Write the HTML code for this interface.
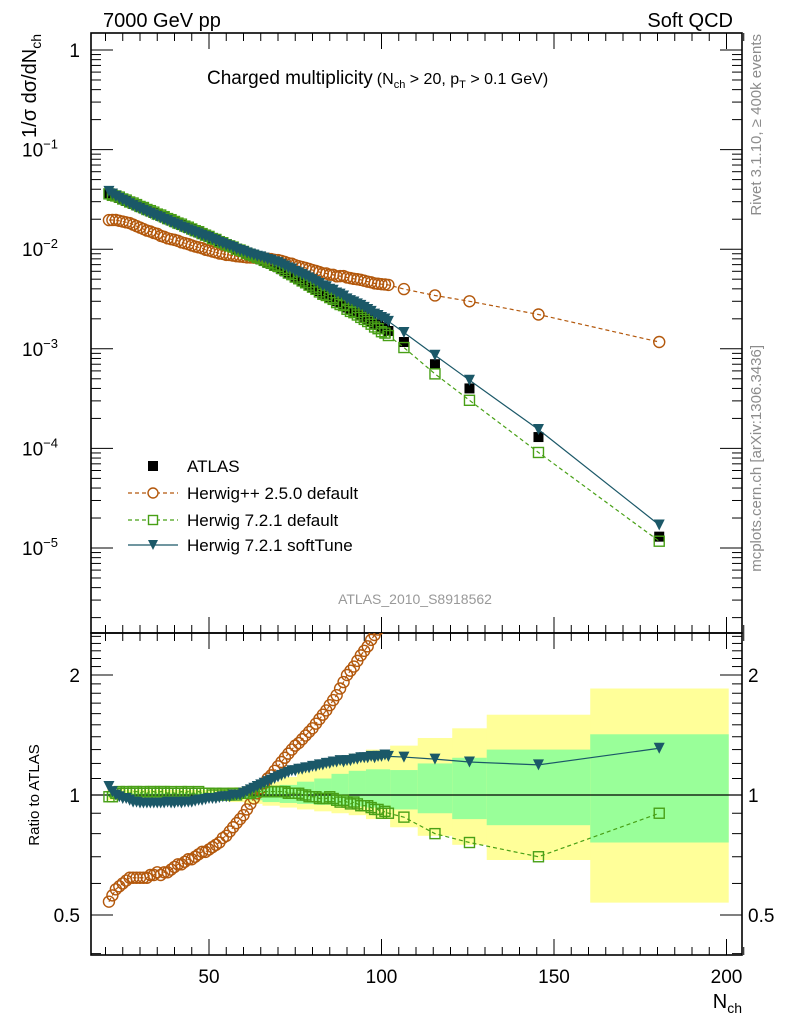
<!DOCTYPE html>
<html><head><meta charset="utf-8"><style>
html,body{margin:0;padding:0;background:#fff;}
svg{display:block;font-family:"Liberation Sans",sans-serif;}
</style></head><body>
<svg id="c" width="786" height="1024" viewBox="0 0 786 1024" xmlns="http://www.w3.org/2000/svg">
<g id="bands"></g>
<g id="axes"></g>
<g id="marks"></g>
<text x="103" y="27" font-size="20">7000 GeV pp</text>
<text x="733" y="27" font-size="20" text-anchor="end">Soft QCD</text>
<text x="207" y="84" font-size="19">Charged multiplicity<tspan font-size="16" dx="4">(N</tspan><tspan font-size="11" dy="4">ch</tspan><tspan font-size="16" dy="-4"> &gt; 20, p</tspan><tspan font-size="11" dy="4">T</tspan><tspan font-size="16" dy="-4"> &gt; 0.1 GeV)</tspan></text>
<text transform="translate(36,34) rotate(-90)" font-size="20" text-anchor="end">1/σ dσ/dN<tspan font-size="14" dy="5">ch</tspan></text>
<text transform="translate(39,795) rotate(-90)" font-size="15" text-anchor="middle">Ratio to ATLAS</text>
<text x="742" y="1008" font-size="20" text-anchor="end">N<tspan font-size="14" dy="5">ch</tspan></text>
<text transform="translate(761,34) rotate(-90)" font-size="15" fill="#8c8c8c" text-anchor="end">Rivet 3.1.10, ≥ 400k events</text>
<text transform="translate(761,345) rotate(-90)" font-size="15" fill="#8c8c8c" text-anchor="end">mcplots.cern.ch [arXiv:1306.3436]</text>
<text x="415" y="604" font-size="14" fill="#999" text-anchor="middle">ATLAS_2010_S8918562</text>
<g id="legend"></g>
</svg>
<script>
// ---- data ----
const nch = [21,22,23,24,25,26,27,28,29,30,31,32,33,34,35,36,37,38,39,40,41,42,43,44,45,46,47,48,49,50,51,52,53,54,55,56,57,58,59,60,61,62,63,64,65,66,67,68,69,70,71,72,73,74,75,76,77,78,79,80,81,82,83,84,85,86,87,88,89,90,91,92,93,94,95,96,97,98,99,100,101,102,106.5,115.5,125.5,145.5,180.5];
const atlas = [.0363,.0351,.0339,.0327,.0316,.0305,.0295,.0285,.0275,.0266,.0257,.0248,.0239,.0231,.0223,.0216,.0208,.0201,.0194,.0188,.0181,.0175,.0169,.0163,.0158,.0152,.0147,.0142,.0137,.0133,.0128,.0124,.0119,.0115,.0111,.0108,.0104,.0100,.0097,.0094,.0090,.0087,.0084,.0081,.0079,.0076,.0073,.0071,.0068,.0066,.0063,.0060,.0057,.0055,.0052,.0050,.0048,.0046,.0044,.0042,.0040,.0038,.0036,.0035,.0033,.0032,.0030,.0029,.0028,.0026,.0025,.0024,.0023,.0022,.0021,.0020,.0019,.0018,.00173,.00165,.00158,.00151,.00117,.00070,.00040,.00013,.000013];
const ratioHpp = [.54,.56,.58,.59,.60,.61,.62,.62,.62,.62,.62,.62,.63,.63,.64,.63,.64,.64,.65,.66,.67,.67,.68,.69,.69,.70,.71,.72,.72,.73,.74,.75,.76,.78,.79,.81,.83,.85,.87,.89,.92,.95,.98,1.01,1.04,1.07,1.10,1.12,1.15,1.18,1.21,1.24,1.27,1.30,1.33,1.35,1.38,1.41,1.44,1.47,1.51,1.55,1.59,1.63,1.68,1.73,1.78,1.85,1.92,2.0,2.05,2.1,2.17,2.24,2.3,2.36,2.45,2.52,2.6,2.7,2.8,2.9,3.4,4.9,7.5,17,90];
const ratioH7 = [.99,.99,1.01,1.02,1.01,1.02,1.01,1.02,1.02,1.01,1.02,1.01,1.02,1.02,1.01,1.02,1.02,1.01,1.02,1.01,1.01,1.02,1.01,1.02,1.01,1.01,1.02,1.01,1.01,1.01,1.00,1.01,1.00,1.01,1.00,1.00,1.01,1.00,1.01,1.01,1.01,1.01,1.02,1.02,1.02,1.02,1.02,1.02,1.02,1.02,1.02,1.02,1.01,1.01,1.01,1.01,1.00,1.00,.99,.99,.99,.98,.98,.98,.99,.98,.97,.96,.97,.96,.95,.96,.95,.94,.94,.94,.93,.92,.92,.90,.91,.90,.88,.80,.76,.70,.90];
const ratioSoft = [1.05,1.02,1.00,.99,.98,.98,.97,.96,.96,.955,.955,.955,.955,.955,.955,.955,.955,.96,.955,.955,.96,.955,.96,.96,.96,.965,.97,.97,.975,.98,.98,.98,.985,.99,.99,.99,1.0,1.0,1.0,1.01,1.02,1.03,1.04,1.05,1.06,1.07,1.08,1.09,1.10,1.11,1.12,1.13,1.14,1.15,1.15,1.16,1.16,1.17,1.17,1.18,1.18,1.19,1.19,1.20,1.20,1.21,1.21,1.22,1.21,1.22,1.22,1.23,1.23,1.24,1.24,1.24,1.25,1.24,1.25,1.25,1.26,1.25,1.245,1.23,1.21,1.19,1.31];
const bandEdges = [20.5,25.5,30.5,35.5,40.5,45.5,50.5,55.5,60.5,65.5,70.5,75.5,80.5,85.5,90.5,95.5,102.5,110.5,120.5,130.5,160.5,200.5];
const yellowUp = [1.035,1.03,1.03,1.03,1.03,1.03,1.035,1.045,1.06,1.08,1.11,1.15,1.19,1.23,1.27,1.30,1.33,1.39,1.47,1.59,1.85];
const yellowDn = [.97,.975,.975,.975,.975,.975,.97,.96,.95,.94,.93,.92,.91,.90,.89,.87,.83,.79,.75,.687,.537];
const greenUp = [1.012,1.01,1.01,1.01,1.01,1.01,1.015,1.02,1.03,1.045,1.06,1.08,1.10,1.13,1.15,1.16,1.155,1.20,1.24,1.30,1.42];
const greenDn = [.988,.99,.99,.99,.99,.99,.985,.98,.97,.96,.955,.95,.945,.94,.935,.93,.92,.90,.87,.84,.76];
const xTicks = [50,100,150,200];
const yTickExp = [0,-1,-2,-3,-4,-5];
const rTicks = [0.5,1,2];

// ---- geometry ----
const L=91,R=742,T=33,MID=633,B=955;
const NS="http://www.w3.org/2000/svg";
const X = n => 36.5 + n*3.45;
const Y = v => 50 - Math.log10(v)*99.6;
const YR = r => 795 - Math.log2(r)*120;
const C_HPP="#b3580c", C_H7="#48a016", C_SOFT="#1b5868";
function mk(parent,tag,attrs){const e=document.createElementNS(NS,tag);for(const k in attrs)e.setAttribute(k,attrs[k]);parent.appendChild(e);return e;}
const axes=document.getElementById('axes'), marks=document.getElementById('marks'), bands=document.getElementById('bands');

// bands
for(let i=0;i<yellowUp.length;i++){
  const x0=X(bandEdges[i]), x1=X(bandEdges[i+1]);
  let r=mk(bands,'rect',{x:x0,y:YR(yellowUp[i]),width:x1-x0+0.5,height:YR(yellowDn[i])-YR(yellowUp[i]),fill:'#ffff99'});
  
  
  let g=mk(bands,'rect',{x:x0,y:YR(greenUp[i]),width:x1-x0+0.5,height:YR(greenDn[i])-YR(greenUp[i]),fill:'#99ff99'});
  
  
}
let one=mk(axes,'line',{x1:L,x2:R,y1:YR(1),y2:YR(1),stroke:'#000','stroke-width':1.2});



// frames
for(const [y0,y1,nm] of [[T,MID,'main-frame'],[MID,B,'ratio-frame']]){
  let f=mk(axes,'rect',{x:L,y:y0,width:R-L,height:y1-y0,fill:'none',stroke:'#000','stroke-width':1.6});
  
  
}
// x ticks
for(let n=20;n<=205;n+=5){
  const x=X(n), maj=(n%50===0), len=maj?16:8;
  for(const [y,d] of [[T,1],[MID,-1],[MID,1],[B,-1]]) mk(axes,'line',{x1:x,x2:x,y1:y,y2:y+d*len,stroke:'#000','stroke-width':1});
}
xTicks.forEach(n=>{let t=mk(axes,'text',{x:X(n),y:983,'font-size':19,'text-anchor':'middle'});t.textContent=n;
  
  });
// main y ticks
for(let e=-6;e<=0;e++){for(let m=1;m<=9;m++){const y=Y(m*Math.pow(10,e));if(y<T||y>MID)continue;const len=m===1?22:10;
  mk(axes,'line',{x1:L,x2:L+len,y1:y,y2:y,stroke:'#000','stroke-width':1});mk(axes,'line',{x1:R,x2:R-len,y1:y,y2:y,stroke:'#000','stroke-width':1});}}
yTickExp.forEach(e=>{let t=mk(axes,'text',{x:e===0?80:58,y:Y(Math.pow(10,e))+7,'font-size':19,'text-anchor':'end'});
  if(e===0)t.textContent='1';else{t.textContent='10';let s=mk(t,'tspan',{dy:-8,'font-size':13});s.textContent='\u2212'+(-e);}
  
  });
// ratio ticks
for(let k=4;k<=25;k++){const r=k/10;const y=YR(r);if(y<MID||y>B)continue;const maj=(k===5||k===10||k===20);const len=maj?22:10;
  mk(axes,'line',{x1:L,x2:L+len,y1:y,y2:y,stroke:'#000','stroke-width':1});mk(axes,'line',{x1:R,x2:R-len,y1:y,y2:y,stroke:'#000','stroke-width':1});}
rTicks.forEach(r=>{for(const side of [0,1]){let t=mk(axes,'text',{x:side?748:80,y:YR(r)+7,'font-size':19,'text-anchor':side?'start':'end'});t.textContent=r;
  
  }});

// markers
function marker(g,type,x,y,col,s){
  if(type==='sq') return mk(g,'rect',{x:x-s/2,y:y-s/2,width:s,height:s,fill:'#000'});
  if(type==='osq') return mk(g,'rect',{x:x-s/2,y:y-s/2,width:s,height:s,fill:'none',stroke:col,'stroke-width':1.4});
  if(type==='circ') return mk(g,'circle',{cx:x,cy:y,r:s/2,fill:'none',stroke:col,'stroke-width':1.4});
  if(type==='tri') return mk(g,'path',{d:`M${x-s/2},${y-s/2}L${x+s/2},${y-s/2}L${x},${y+s/2}Z`,fill:col});
}
const clipDef=mk(document.getElementById('c'),'defs',{});
const cp1=mk(clipDef,'clipPath',{id:'cm'});mk(cp1,'rect',{x:L,y:T,width:R-L,height:MID-T});
const cp2=mk(clipDef,'clipPath',{id:'cr'});mk(cp2,'rect',{x:L,y:MID,width:R-L,height:B-MID});
const gm=mk(marks,'g',{'clip-path':'url(#cm)'}), gr=mk(marks,'g',{'clip-path':'url(#cr)'});

const series=[
  {name:'herwigpp-2-5-0',ratio:ratioHpp,col:C_HPP,type:'circ',s:11,dash:'4,3'},
  {name:'herwig-7-2-1-default',ratio:ratioH7,col:C_H7,type:'osq',s:10,dash:'4,3'},
  {name:'herwig-7-2-1-softtune',ratio:ratioSoft,col:C_SOFT,type:'tri',s:11,dash:null}
];
atlas.forEach((v,i)=>{let m=marker(gm,'sq',X(nch[i]),Y(v),'#000',10);
  
  });
series.forEach(sr=>{
  const ptsM=nch.map((n,i)=>[X(n),Y(atlas[i]*sr.ratio[i])]);
  const ptsR=nch.map((n,i)=>[X(n),YR(sr.ratio[i])]);
  for(const [g,pts] of [[gm,ptsM],[gr,ptsR]]){
    let pl=mk(g,'polyline',{points:pts.map(p=>p.join(',')).join(' '),fill:'none',stroke:sr.col,'stroke-width':1.2});
    if(sr.dash)pl.setAttribute('stroke-dasharray',sr.dash);
    
    
    pts.forEach(p=>{let m=marker(g,sr.type,p[0],p[1],sr.col,sr.s);
      
      });
  }
});

// legend
const lg=document.getElementById('legend');
const rows=[['ATLAS','sq','#000',null],['Herwig++ 2.5.0 default','circ',C_HPP,'4,3'],['Herwig 7.2.1 default','osq',C_H7,'4,3'],['Herwig 7.2.1 softTune','tri',C_SOFT,null]];
const ly=[466,493,520,545];
rows.forEach((r,i)=>{
  const g=mk(lg,'g',{});
  
  
  if(i>0){let l=mk(g,'line',{x1:128,x2:178,y1:ly[i],y2:ly[i],stroke:r[2],'stroke-width':1.2});if(r[3])l.setAttribute('stroke-dasharray',r[3]);}
  if(r[1]==='circ') mk(g,'circle',{cx:153,cy:ly[i],r:5,fill:'#fff',stroke:r[2],'stroke-width':1.4});
  else if(r[1]==='osq') mk(g,'rect',{x:148.5,y:ly[i]-4.5,width:9,height:9,fill:'#fff',stroke:r[2],'stroke-width':1.4});
  else marker(g,r[1],153,ly[i],r[2],10);
  let t=mk(g,'text',{x:187,y:ly[i]+6,'font-size':17});t.textContent=r[0];
});
</script>
</body></html>
